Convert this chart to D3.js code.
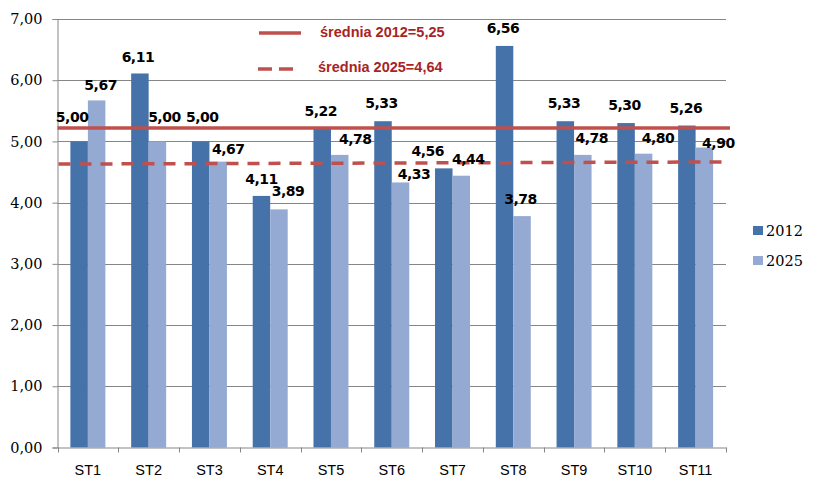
<!DOCTYPE html>
<html><head><meta charset="utf-8">
<script src="https://cdn.jsdelivr.net/npm/d3@7"></script>
<style>html,body{margin:0;padding:0;background:#fff;}svg{display:block;}</style>
</head><body>
<svg id="chart" width="817" height="491"></svg>
<script>
const categories = ["ST1","ST2","ST3","ST4","ST5","ST6","ST7","ST8","ST9","ST10","ST11"];
const values2012 = [5.00,6.11,5.00,4.11,5.22,5.33,4.56,6.56,5.33,5.30,5.26];
const values2025 = [5.67,5.00,4.67,3.89,4.78,4.33,4.44,3.78,4.78,4.80,4.90];
const seriesNames = ["2012","2025"];
const yTicks = [0,1,2,3,4,5,6,7];
const meanLine2012 = [5.22,5.22];      // drawn level (left, right)
const meanLine2025 = [4.63,4.665];
const meanLabels = ["średnia 2012=5,25","średnia 2025=4,64"];

// label nudges (pixels) – manual placements in the original
const nudge2012 = [[-7,-24],[-2,-17],[1.5,-24],[0,-17],[-1.5,-17],[-1.5,-18],[-16,-17],[-1.5,-18],[-1.3,-18],[-1.5,-18],[-1,-18]];
const nudge2025 = [[4,-15],[7,-24],[10,-13],[9,-18],[15.5,-16],[13.5,-8.5],[7,-17],[-1.5,-17],[9,-17],[14.5,-16],[14,-5]];

const colors = ["#4672AA","#95AAD3"];
const red = "#C0504D";
const fmt = v => v.toFixed(2).replace(".", ",");

const svg = d3.select("#chart");
const mLeft = 57.5, mRight = 726, mTop = 19, mBottom = 447.5;

const x = d3.scaleBand().domain(categories).range([mLeft, mRight]).paddingInner(0).paddingOuter(0);
const y = d3.scaleLinear().domain([0,7]).range([mBottom, mTop]);
const xs = d3.scaleBand().domain(seriesNames).range([0, 35]);
const groupOffset = (x.bandwidth() - 35) / 2;

// gridlines
svg.append("g").selectAll("line").data(yTicks.filter(d => d > 0)).join("line")
  .attr("x1", mLeft).attr("x2", mRight)
  .attr("y1", d => Math.round(y(d)) + 0.5).attr("y2", d => Math.round(y(d)) + 0.5)
  .attr("stroke", "#868686").attr("stroke-width", 1);

// y axis
const yAxis = d3.axisLeft(y).tickValues(yTicks).tickSize(5).tickPadding(10).tickFormat(fmt);
const gy = svg.append("g").attr("transform", `translate(${mLeft},0)`).call(yAxis);
gy.select(".domain").attr("stroke", "#868686");
gy.selectAll(".tick line").attr("stroke", "#868686");
gy.selectAll(".tick text").attr("font-family", "DejaVu Serif").attr("font-size", 14.5).attr("fill", "#000");

// bars
const series = [values2012, values2025];
series.forEach((vals, si) => {
  svg.append("g").selectAll("rect").data(vals).join("rect")
    .attr("x", (d, i) => x(categories[i]) + groupOffset + xs(seriesNames[si]))
    .attr("y", d => y(d))
    .attr("width", xs.bandwidth())
    .attr("height", d => mBottom - y(d))
    .attr("fill", colors[si]);
});

// x axis
const xAxis = d3.axisBottom(x).tickSize(0).tickPadding(17);
const gx = svg.append("g").attr("transform", `translate(0,${mBottom})`).call(xAxis);
gx.select(".domain").attr("stroke", "#868686");
gx.selectAll(".tick text").attr("font-family", "Liberation Sans").attr("font-size", 14.5).attr("fill", "#000");
// boundary ticks
const bounds = categories.map(c => x(c)).concat([mRight]);
svg.append("g").selectAll("line").data(bounds).join("line")
  .attr("x1", d => Math.round(d) + 0.5).attr("x2", d => Math.round(d) + 0.5)
  .attr("y1", mBottom).attr("y2", mBottom + 5)
  .attr("stroke", "#868686");

// mean lines
const lx = d3.scaleLinear().domain([0,1]).range([mLeft, 730]);
const line = d3.line().x((d, i) => lx(i)).y(d => y(d));
svg.append("path").datum(meanLine2012).attr("d", line)
  .attr("stroke", red).attr("stroke-width", 3.5).attr("fill", "none");
svg.append("path").datum(meanLine2025).attr("d", line)
  .attr("stroke", red).attr("stroke-width", 3.5).attr("fill", "none")
  .attr("stroke-dasharray", "12,9").attr("stroke-dashoffset", -1);

// data labels
series.forEach((vals, si) => {
  const nd = si === 0 ? nudge2012 : nudge2025;
  svg.append("g").selectAll("text").data(vals).join("text")
    .attr("x", (d, i) => x(categories[i]) + groupOffset + xs(seriesNames[si]) + xs.bandwidth() / 2 + nd[i][0])
    .attr("y", (d, i) => y(d) + nd[i][1])
    .attr("dy", "0.36em")
    .attr("text-anchor", "middle")
    .attr("font-family", "DejaVu Sans").attr("font-weight", "bold").attr("font-size", 14)
    .attr("letter-spacing", -0.5)
    .attr("fill", "#000")
    .text(fmt);
});

// mean legend (top)
const ml = svg.append("g");
ml.append("line").attr("x1", 259).attr("x2", 301).attr("y1", 33).attr("y2", 33)
  .attr("stroke", red).attr("stroke-width", 3.5);
ml.append("line").attr("x1", 258).attr("x2", 293).attr("y1", 69).attr("y2", 69)
  .attr("stroke", red).attr("stroke-width", 3.5).attr("stroke-dasharray", "14,7");
ml.selectAll("text").data(meanLabels).join("text")
  .attr("x", (d, i) => i === 0 ? 320 : 318)
  .attr("y", (d, i) => i === 0 ? 31.5 : 66.5)
  .attr("dy", "0.36em")
  .attr("font-family", "Liberation Sans").attr("font-weight", "bold").attr("font-size", 14.5)
  .attr("fill", "#A82424")
  .text(d => d);

// series legend (right)
const lg = svg.append("g");
seriesNames.forEach((s, i) => {
  lg.append("rect").attr("x", 753).attr("y", 226 + i * 30).attr("width", 10).attr("height", 9).attr("fill", colors[i]);
  lg.append("text").attr("x", 766).attr("y", 230.5 + i * 30).attr("dy", "0.36em")
    .attr("font-family", "DejaVu Serif").attr("font-size", 14.5).attr("fill", "#000").text(s);
});
</script>
</body></html>
